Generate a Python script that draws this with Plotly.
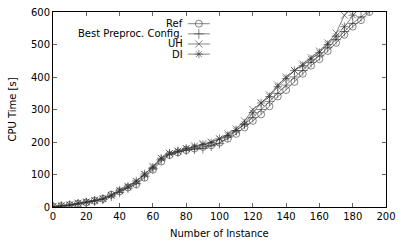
import plotly.graph_objects as go

instances = list(range(0, 200, 5))
ref = [1, 3, 6, 10, 14, 19, 25, 38, 48, 60, 70, 90, 115, 140, 160, 168, 175, 180, 185, 190,
       198, 210, 225, 245, 265, 285, 310, 340, 360, 385, 410, 435, 455, 480, 505, 530, 555, 575, 600, 620]
best = [0, 2, 5, 9, 13, 18, 24, 33, 45, 58, 72, 95, 118, 145, 162, 170, 175, 178, 180, 188,
        195, 215, 235, 255, 275, 300, 325, 350, 375, 400, 420, 445, 465, 490, 515, 540, 565, 585, 605, 625]
uh = [2, 4, 7, 12, 16, 21, 26, 35, 50, 62, 78, 100, 125, 150, 165, 172, 180, 188, 195, 200,
      210, 225, 240, 265, 300, 320, 345, 375, 400, 420, 440, 460, 480, 505, 535, 590, 620]
di = [1, 3, 6, 11, 15, 20, 25, 37, 52, 64, 80, 102, 122, 150, 165, 172, 180, 185, 192, 198,
      210, 220, 235, 255, 290, 320, 340, 370, 395, 420, 435, 455, 475, 500, 525, 555, 590, 620]

names = ["Ref", "Best Preproc. Config.", "UH", "DI"]
series = [ref, best, uh, di]
symbols = ["circle-open", "cross-thin-open", "x-thin-open", "asterisk-open"]
sizes = [7, 7, 7, 7]
COL = "#333"
LW = 0.6

FONT = "DejaVu Sans"
fig = go.Figure()
for nm, ys, sym, sz in zip(names, series, symbols, sizes):
    fig.add_trace(go.Scatter(
        x=instances[:len(ys)], y=ys, mode="lines+markers", name=nm, showlegend=False,
        line=dict(color=COL, width=LW),
        marker=dict(symbol=sym, size=sz, color=COL, line=dict(width=LW, color=COL)),
        cliponaxis=True))

# custom gnuplot-style key (text right, sample left->right)
key_y = [0.94, 0.888, 0.836, 0.784]
for nm, sym, sz, ky in zip(names, symbols, sizes, key_y):
    fig.add_trace(go.Scatter(x=[0.405, 0.471], y=[ky, ky], mode="lines", xaxis="x2", yaxis="y2",
                             showlegend=False, line=dict(color=COL, width=LW), hoverinfo="skip"))
    fig.add_trace(go.Scatter(x=[0.438], y=[ky], mode="markers", xaxis="x2", yaxis="y2",
                             showlegend=False, hoverinfo="skip",
                             marker=dict(symbol=sym, size=sz, color=COL, line=dict(width=LW, color=COL))))
    fig.add_annotation(x=0.397, y=ky, xref="paper", yref="paper", text=nm, showarrow=False,
                       xanchor="right", yanchor="middle", font=dict(family=FONT, size=10, color="#000"))

fig.add_annotation(x=0.5, y=-0.095, xref="paper", yref="paper", text="Number of Instance",
                   showarrow=False, xanchor="center", yanchor="top",
                   font=dict(family=FONT, size=10, color="#000"))
fig.add_annotation(x=-0.123, y=0.5, xref="paper", yref="paper", text="CPU Time [s]",
                   showarrow=False, xanchor="center", yanchor="middle", textangle=-90,
                   font=dict(family=FONT, size=10, color="#000"))

axis_common = dict(showgrid=False, zeroline=False, ticks="inside", ticklen=4, tickwidth=1,
                   tickcolor="#666", showline=True, linecolor="#000", linewidth=1, mirror="allticks",
                   automargin=False, tickfont=dict(family=FONT, size=10, color="#000"))
fig.update_layout(
    width=400, height=240, margin=dict(l=53, r=14, t=12, b=33),
    paper_bgcolor="white", plot_bgcolor="white",
    xaxis=dict(range=[0, 200], dtick=20, **axis_common),
    yaxis=dict(range=[0, 600], dtick=100, **axis_common),
    xaxis2=dict(range=[0, 1], overlaying="x", visible=False),
    yaxis2=dict(range=[0, 1], overlaying="y", visible=False),
)
fig.write_html("out.html", config={"displayModeBar": False},
               post_script="document.body.style.margin='0';document.documentElement.style.overflow='hidden';window.scrollTo(0,0);")
